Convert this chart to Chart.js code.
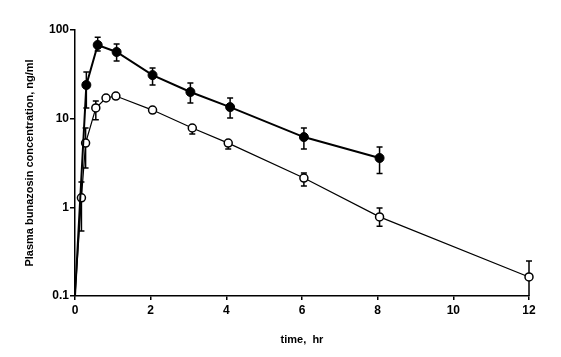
<!DOCTYPE html>
<html>
<head>
<meta charset="utf-8">
<script src="https://cdn.jsdelivr.net/npm/chart.js@4/dist/chart.umd.min.js"></script>
<style>
html,body{margin:0;padding:0;background:#fff;}
#wrap{width:561px;height:357px;position:relative;}
</style>
</head>
<body>
<div id="wrap"><canvas id="c" width="561" height="357"></canvas></div>
<script>
// Filled circles series
const timeFilled  = [0, 0.3, 0.6, 1.1, 2.05, 3.05, 4.1, 6.05, 8.05];
const concFilled  = [0.1, 24, 67.8, 56.5, 31, 20, 13.5, 6.2, 3.6];
const upperFilled = [null, 33.6, 83, 69.5, 37.3, 25.3, 17.1, 7.85, 4.8];
const lowerFilled = [null, 13.2, 58, 44.8, 24, 15, 10.2, 4.55, 2.4];

// Open circles series
const timeOpen  = [0, 0.17, 0.28, 0.55, 0.82, 1.08, 2.05, 3.1, 4.05, 6.05, 8.05, 12];
const concOpen  = [0.1, 1.28, 5.3, 13.2, 17.1, 18, 12.5, 7.85, 5.3, 2.14, 0.78, 0.164];
const upperOpen = [null, 1.93, 7.85, 15.8, null, null, null, 8.3, 5.6, 2.44, 0.98, 0.248];
const lowerOpen = [null, 0.54, 2.78, 9.7, null, null, null, 6.7, 4.55, 1.74, 0.61, 0.1];

// Tick labels
const xTicks = [0, 2, 4, 6, 8, 10, 12];
const yTicks = [0.1, 1, 10, 100];
const yTickLabels = ['0.1', '1', '10', '100'];
const xTitle = 'time,  hr';
const yTitle = 'Plasma bunazosin concentration, ng/ml';

const errorBars = [
  {upper: upperFilled, lower: lowerFilled},
  {upper: upperOpen, lower: lowerOpen}
];

const errorBarPlugin = {
  id: 'errorBars',
  beforeDatasetsDraw(chart) {
    const ctx = chart.ctx;
    const ys = chart.scales.y;
    ctx.save();
    ctx.strokeStyle = '#000';
    ctx.lineWidth = 1.5;
    errorBars.forEach((eb, di) => {
      const meta = chart.getDatasetMeta(di);
      meta.data.forEach((pt, i) => {
        if (eb.upper[i] == null) return;
        const x = pt.x;
        const yu = ys.getPixelForValue(eb.upper[i]);
        const yl = ys.getPixelForValue(eb.lower[i]);
        ctx.beginPath();
        ctx.moveTo(x, yu); ctx.lineTo(x, yl);
        ctx.moveTo(x - 3, yu); ctx.lineTo(x + 3, yu);
        if (eb.lower[i] > 0.1) { ctx.moveTo(x - 3, yl); ctx.lineTo(x + 3, yl); }
        ctx.stroke();
      });
    });
    ctx.restore();
  }
};

const tickFont = {family: '"Liberation Sans", Arial, sans-serif', size: 12, weight: 'bold'};
const titleFont = {family: '"Liberation Sans", Arial, sans-serif', size: 11, weight: 'bold'};

new Chart(document.getElementById('c'), {
  type: 'line',
  data: {
    datasets: [
      {
        data: timeFilled.map((t, i) => ({x: t, y: concFilled[i]})),
        borderColor: '#000',
        borderWidth: 2,
        backgroundColor: '#000',
        pointBackgroundColor: '#000',
        pointBorderColor: '#000',
        pointRadius: timeFilled.map(t => t === 0 ? 0 : 4.5),
        pointBorderWidth: 1,
        tension: 0,
        clip: false
      },
      {
        data: timeOpen.map((t, i) => ({x: t, y: concOpen[i]})),
        borderColor: '#000',
        borderWidth: 1.2,
        backgroundColor: '#fff',
        pointBackgroundColor: '#fff',
        pointBorderColor: '#000',
        pointRadius: timeOpen.map(t => t === 0 ? 0 : 4),
        pointBorderWidth: 1.5,
        tension: 0,
        clip: false
      }
    ]
  },
  options: {
    responsive: false,
    animation: false,
    devicePixelRatio: 1,
    layout: {padding: {left: 0, top: 30, right: 32, bottom: 0}},
    plugins: {legend: {display: false}, tooltip: {enabled: false}},
    scales: {
      x: {
        type: 'linear',
        min: 0, max: 12,
        afterBuildTicks(s) { s.ticks = xTicks.map(v => ({value: v})); },
        afterFit(s) { s.height = 61; },
        ticks: {font: tickFont, color: '#000', padding: 3, maxRotation: 0},
        grid: {drawOnChartArea: false, drawTicks: true, tickLength: 4, color: '#000', lineWidth: 1.5},
        border: {display: true, color: '#000', width: 1.5},
        title: {display: true, text: xTitle, font: titleFont, color: '#000', padding: {top: 0, bottom: 10}}
      },
      y: {
        type: 'logarithmic',
        min: 0.1, max: 100,
        afterBuildTicks(s) { s.ticks = yTicks.map(v => ({value: v})); },
        afterFit(s) { s.width = 75; },
        ticks: {
          font: tickFont, color: '#000', padding: 1,
          callback(v) { const k = yTicks.indexOf(v); return k >= 0 ? yTickLabels[k] : ''; }
        },
        grid: {drawOnChartArea: false, drawTicks: true, tickLength: 5, color: '#000', lineWidth: 1.5},
        border: {display: true, color: '#000', width: 1.5},
        title: {display: true, text: yTitle, font: titleFont, color: '#000', padding: {top: 23, bottom: 0}}
      }
    }
  },
  plugins: [errorBarPlugin]
});
</script>
</body>
</html>
